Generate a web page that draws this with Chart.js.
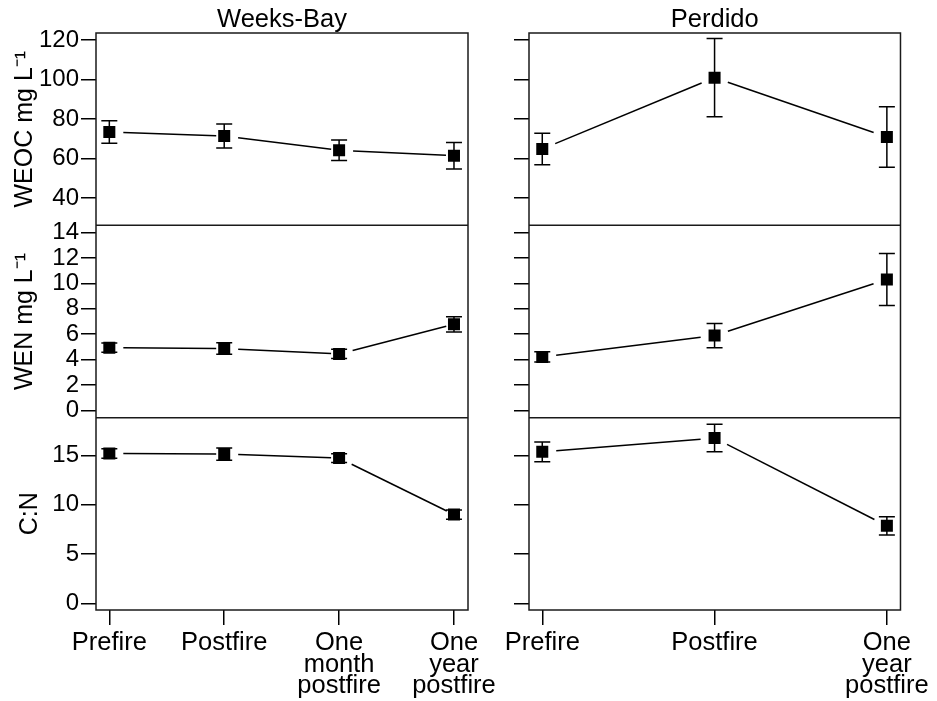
<!DOCTYPE html>
<html>
<head>
<meta charset="utf-8">
<script src="https://cdn.jsdelivr.net/npm/chart.js@4.4.1/dist/chart.umd.min.js"></script>
<style>
  html, body { margin: 0; padding: 0; background: #fff; }
  #wrap { position: relative; width: 937px; height: 701px; }
  #wrap canvas { position: absolute; left: 0; top: 0; }
</style>
</head>
<body>
<div id="wrap">
  <canvas id="weeks" width="937" height="701"></canvas>
  <canvas id="perdido" width="937" height="701"></canvas>
</div>
<script>
// sampling times per site
const weeksLabels = [['Prefire'], ['Postfire'], ['One', 'month', 'postfire'], ['One', 'year', 'postfire']];
const perdidoLabels = [['Prefire'], ['Postfire'], ['One', 'year', 'postfire']];

// means and error bar half-lengths
const weeksWEOC = [73.4, 71.4, 64.2, 61.4];
const weeksWEOCErr = [5.7, 6.1, 5.2, 6.7];
const perdidoWEOC = [64.8, 100.9, 70.9];
const perdidoWEOCErr = [8.0, 19.8, 15.3];

const weeksWEN = [4.94, 4.87, 4.45, 6.78];
const weeksWENErr = [0.37, 0.45, 0.37, 0.6];
const perdidoWEN = [4.21, 5.89, 10.31];
const perdidoWENErr = [0.4, 0.95, 2.05];

const weeksCN = [15.2, 15.14, 14.73, 9.0];
const weeksCNErr = [0.48, 0.62, 0.44, 0.47];
const perdidoCN = [15.37, 16.76, 7.86];
const perdidoCNErr = [1.0, 1.4, 0.93];

// y axis tick values
const weocTicks = [40, 60, 80, 100, 120];
const wenTicks = [0, 2, 4, 6, 8, 10, 12, 14];
const cnTicks = [0, 5, 10, 15];

const FONT = '"Liberation Sans", Arial, Helvetica, sans-serif';
const INK = '#000';

// error bars + connecting segments (with gaps around the markers)
const errorBars = {
  id: 'errorBars',
  beforeDatasetsDraw(chart, args, opts) {
    const ctx = chart.ctx;
    const g0 = opts.gap[0], g1 = opts.gap[1];
    ctx.save();
    ctx.strokeStyle = INK;
    ctx.lineWidth = 1.5;
    chart.data.datasets.forEach((ds, di) => {
      const meta = chart.getDatasetMeta(di);
      const ys = chart.scales[ds.yAxisID];
      meta.data.forEach((pt, i) => {
        const v = ds.data[i].y, e = ds.errors[i];
        const top = ys.getPixelForValue(v + e);
        const bot = ys.getPixelForValue(v - e);
        ctx.beginPath();
        ctx.moveTo(pt.x, top); ctx.lineTo(pt.x, bot);
        ctx.moveTo(pt.x - 8, top); ctx.lineTo(pt.x + 8, top);
        ctx.moveTo(pt.x - 8, bot); ctx.lineTo(pt.x + 8, bot);
        ctx.stroke();
      });
      for (let i = 0; i + 1 < meta.data.length; i++) {
        const a = meta.data[i], b = meta.data[i + 1];
        const dx = b.x - a.x, dy = b.y - a.y;
        const len = Math.hypot(dx, dy);
        const ux = dx / len, uy = dy / len;
        ctx.beginPath();
        ctx.moveTo(a.x + ux * g0, a.y + uy * g0);
        ctx.lineTo(b.x - ux * g1, b.y - uy * g1);
        ctx.stroke();
      }
    });
    ctx.restore();
  }
};

// box around the panels and separators between rows
const panelFrame = {
  id: 'panelFrame',
  afterDatasetsDraw(chart) {
    const ctx = chart.ctx;
    const a = chart.chartArea;
    ctx.save();
    ctx.strokeStyle = '#1a1a1a';
    ctx.lineWidth = 1.5;
    ctx.strokeRect(a.left, a.top, a.right - a.left, a.bottom - a.top);
    ['yWEOC', 'yWEN'].forEach(id => {
      const y = chart.scales[id].bottom;
      ctx.beginPath();
      ctx.moveTo(a.left, y);
      ctx.lineTo(a.right, y);
      ctx.stroke();
    });
    ctx.restore();
  }
};

const panelTitle = {
  id: 'panelTitle',
  afterDraw(chart, args, opts) {
    const ctx = chart.ctx;
    const a = chart.chartArea;
    ctx.save();
    ctx.fillStyle = INK;
    ctx.font = '25.5px ' + FONT;
    ctx.textAlign = 'center';
    ctx.textBaseline = 'alphabetic';
    ctx.fillText(opts.text, (a.left + a.right) / 2, 27);
    ctx.restore();
  }
};

function yAxis(ticks, min, max, showLabels, axisWidth, title, titlePad) {
  return {
    type: 'linear',
    position: 'left',
    stack: 'rows',
    stackWeight: 1,
    min: min,
    max: max,
    afterBuildTicks: s => { s.ticks = ticks.map(v => ({ value: v })); },
    afterFit: s => { s.width = axisWidth; },
    ticks: { display: showLabels, autoSkip: false, color: INK, padding: 2, font: { family: FONT, size: 24 } },
    grid: { display: true, drawOnChartArea: false, drawTicks: true, tickLength: 15, color: INK, lineWidth: 1.5 },
    border: { display: false },
    title: {
      display: showLabels,
      text: title,
      color: INK,
      padding: { top: titlePad, bottom: 0 },
      font: { family: FONT, size: 25 }
    }
  };
}

function makeColumn(id, site, labels, weoc, weocErr, wen, wenErr, cn, cnErr, xr, pad, axisWidth, showLabels, gap) {
  const pts = arr => arr.map((v, i) => ({ x: i, y: v }));
  const marker = {
    showLine: false,
    pointStyle: 'rect',
    pointRadius: 8.5,
    pointBackgroundColor: INK,
    pointBorderColor: INK,
    pointBorderWidth: 0
  };
  return new Chart(document.getElementById(id), {
    type: 'line',
    data: {
      datasets: [
        Object.assign({ label: 'WEOC', data: pts(weoc), errors: weocErr, yAxisID: 'yWEOC' }, marker),
        Object.assign({ label: 'WEN', data: pts(wen), errors: wenErr, yAxisID: 'yWEN' }, marker),
        Object.assign({ label: 'C:N', data: pts(cn), errors: cnErr, yAxisID: 'yCN' }, marker)
      ]
    },
    options: {
      responsive: false,
      animation: false,
      layout: { padding: pad },
      plugins: {
        legend: { display: false },
        tooltip: { enabled: false },
        errorBars: { gap: gap },
        panelTitle: { text: site }
      },
      scales: {
        x: {
          type: 'linear',
          position: 'bottom',
          min: xr[0],
          max: xr[1],
          afterBuildTicks: s => { s.ticks = labels.map((l, i) => ({ value: i })); },
          afterFit: s => { s.height = 91; },
          ticks: {
            callback: (v, i) => labels[i],
            color: INK,
            maxRotation: 0,
            autoSkip: false,
            padding: 7,
            font: { family: FONT, size: 25.5, lineHeight: 0.85 }
          },
          grid: { display: true, drawOnChartArea: false, drawTicks: true, tickLength: 15, color: INK, lineWidth: 1.5 },
          border: { display: false }
        },
        // declared bottom-to-top: stacked left boxes are placed in reverse order
        yCN: yAxis(cnTicks, -0.68, 18.83, showLabels, axisWidth, 'C:N', 15),
        yWEN: yAxis(wenTicks, -0.57, 14.57, showLabels, axisWidth, 'WEN mg L\u207B\u00B9', 10),
        yWEOC: yAxis(weocTicks, 26.2, 123.5, showLabels, axisWidth, 'WEOC mg L\u207B\u00B9', 10)
      }
    },
    plugins: [errorBars, panelFrame, panelTitle]
  });
}

makeColumn('weeks', 'Weeks-Bay', weeksLabels,
  weeksWEOC, weeksWEOCErr, weeksWEN, weeksWENErr, weeksCN, weeksCNErr,
  [-0.116, 3.122], { top: 33, left: 0, right: 469, bottom: 0 }, 96, true, [14, 8]);

makeColumn('perdido', 'Perdido', perdidoLabels,
  perdidoWEOC, perdidoWEOCErr, perdidoWEN, perdidoWENErr, perdidoCN, perdidoCNErr,
  [-0.077, 2.079], { top: 33, left: 480, right: 36, bottom: 0 }, 49, false, [14, 14]);
</script>
</body>
</html>
